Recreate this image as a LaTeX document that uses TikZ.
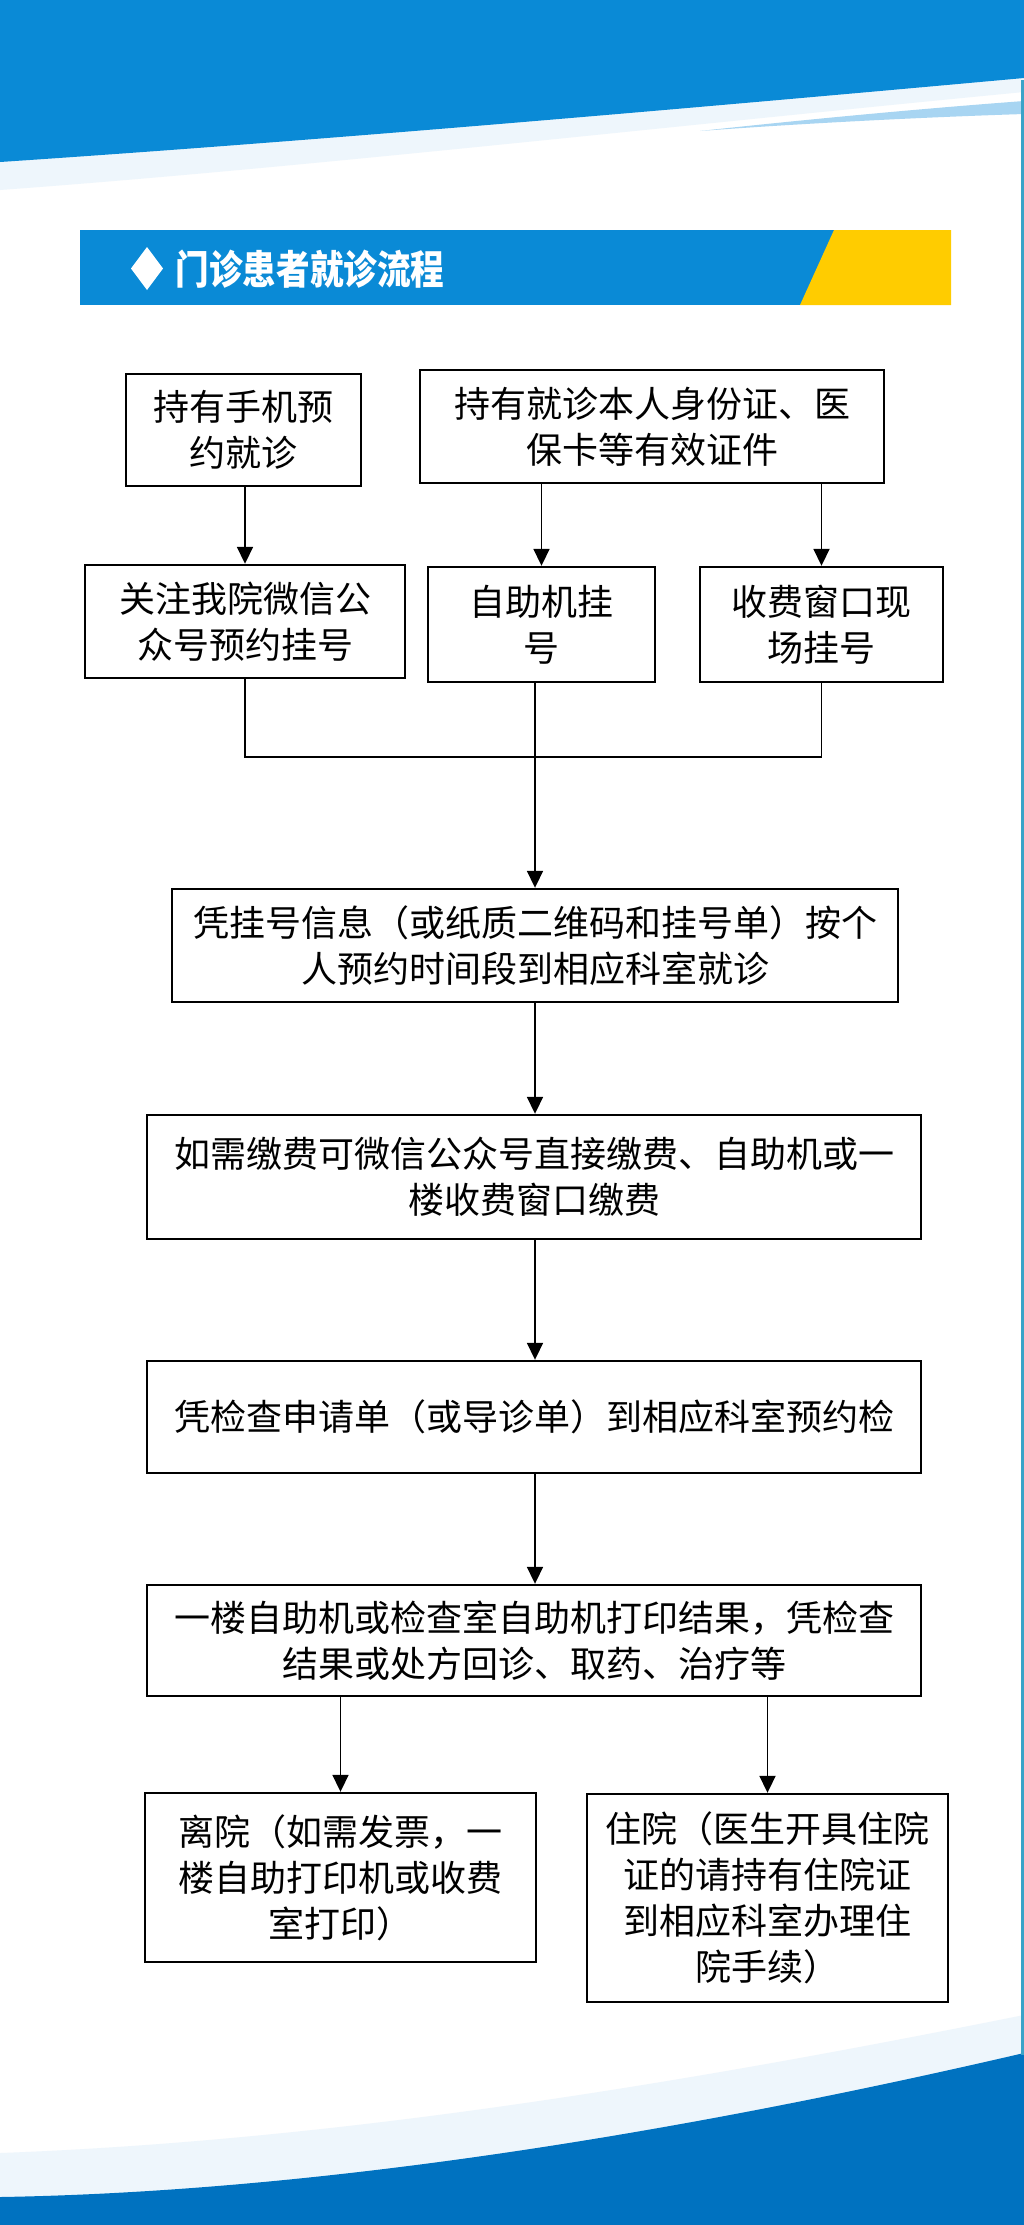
\documentclass[tikz,border=0pt]{standalone}
\usepackage{fontspec}
\newfontfamily\cjk{Noto Sans CJK SC}
\usetikzlibrary{arrows.meta}
\definecolor{topblue}{HTML}{0A8AD6}
\definecolor{botblue}{HTML}{0072C0}
\definecolor{lightstreak}{HTML}{A8D5F2}
\definecolor{pale}{HTML}{EEF6FC}
\definecolor{gold}{HTML}{FFCC00}
\definecolor{edgeline}{HTML}{3AA3C8}
\begin{document}
\begin{tikzpicture}[x=1pt,y=-1pt,
  box/.style={draw=black, line width=2.4pt, align=center, inner sep=0pt,
    font=\cjk\fontsize{36}{46}\selectfont, text=black},
  link/.style={line width=1.8pt, draw=black},
  arr/.style={link, -{Triangle[length=17pt,width=16pt]}}]
\useasboundingbox (0,0) rectangle (1024,2225);
\fill[white] (0,0) rectangle (1024,2225);
% top waves
\fill[pale] (0,0) -- (0,190) .. controls (300,168) and (650,128) .. (1024,92) -- (1024,0) -- cycle;
\fill[topblue] (0,0) -- (0,162) .. controls (300,142) and (650,112) .. (1024,78) -- (1024,0) -- cycle;
\fill[lightstreak] (700,131) .. controls (820,118) and (930,108) .. (1024,101) -- (1024,114) .. controls (900,118) and (780,125) .. (700,131) -- cycle;
% bottom waves
\fill[pale] (0,2225) -- (0,2153) .. controls (350,2140) and (700,2080) .. (1024,2015) -- (1024,2225) -- cycle;
\fill[botblue] (0,2225) -- (0,2197) .. controls (300,2192) and (650,2140) .. (1024,2053) -- (1024,2225) -- cycle;
% right edge
\draw[edgeline, line width=3pt] (1022.5,80) -- (1022.5,2055);
% header banner
\fill[topblue] (80,230) rectangle (951,305);
\fill[gold] (834,230) -- (951,230) -- (951,305) -- (800,305) -- cycle;
\fill[white] (147,247) -- (163,268.5) -- (147,290) -- (131,268.5) -- cycle;
\node[text=white, inner sep=0pt] (title) at (310,269) {\scalebox{0.84}[1]{\cjk\bfseries\fontsize{40}{40}\selectfont 门诊患者就诊流程}};
% boxes
\node[box, minimum width=235pt, minimum height=112pt] (A) at (243.5,430) {持有手机预\\约就诊};
\node[box, minimum width=464pt, minimum height=113pt] (B) at (652,426.5) {持有就诊本人身份证、医\\保卡等有效证件};
\node[box, minimum width=320pt, minimum height=113pt] (C) at (245,621.5) {关注我院微信公\\众号预约挂号};
\node[box, minimum width=227pt, minimum height=115pt] (D) at (541.5,624.5) {自助机挂\\号};
\node[box, minimum width=243pt, minimum height=115pt] (E) at (821.5,624.5) {收费窗口现\\场挂号};
\node[box, minimum width=726pt, minimum height=113pt] (F) at (535,945.5) {凭挂号信息（或纸质二维码和挂号单）按个\\人预约时间段到相应科室就诊};
\node[box, minimum width=774pt, minimum height=124pt] (G) at (534,1177) {如需缴费可微信公众号直接缴费、自助机或一\\楼收费窗口缴费};
\node[box, minimum width=774pt, minimum height=112pt] (H) at (534,1417) {凭检查申请单（或导诊单）到相应科室预约检};
\node[box, minimum width=774pt, minimum height=111pt] (I) at (534,1640.5) {一楼自助机或检查室自助机打印结果，凭检查\\结果或处方回诊、取药、治疗等};
\node[box, minimum width=391pt, minimum height=169pt] (J) at (340.5,1877.5) {离院（如需发票，一\\楼自助打印机或收费\\室打印）};
\node[box, minimum width=361pt, minimum height=208pt] (K) at (767.5,1898) {住院（医生开具住院\\证的请持有住院证\\到相应科室办理住\\院手续）};
% connectors
\coordinate (join) at (535,757);
\draw[arr] (A.south -| C.north) -- (C.north);
\draw[arr] (B.south -| D.north) -- (D.north);
\draw[arr] (B.south -| E.north) -- (E.north);
\draw[link] (C.south) -- (C.south |- join) -- (E.south |- join) -- (E.south);
\draw[link] (D.south -| join) -- (join);
\draw[arr] (join) -- (join |- F.north);
\draw[arr] (F.south) -- (F.south |- G.north);
\draw[arr] (G.south -| F.south) -- (F.south |- H.north);
\draw[arr] (H.south -| F.south) -- (F.south |- I.north);
\draw[arr] (I.south -| J.north) -- (J.north);
\draw[arr] (I.south -| K.north) -- (K.north);
\end{tikzpicture}
\end{document}
